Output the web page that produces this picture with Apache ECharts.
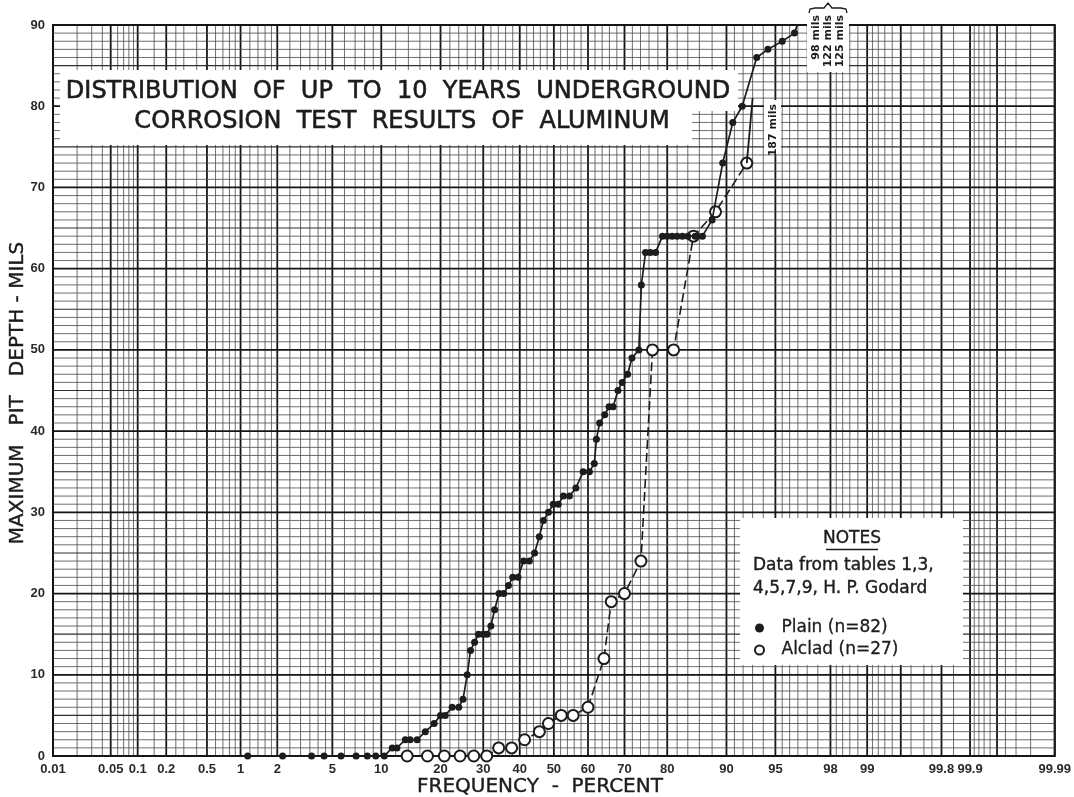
<!DOCTYPE html>
<html>
<head>
<meta charset="utf-8">
<title>Distribution of up to 10 years underground corrosion test results of aluminum</title>
<script src="https://cdn.jsdelivr.net/npm/echarts@6/dist/echarts.min.js"></script>
<style>
  html, body { margin: 0; padding: 0; background: #fff; }
  #chart { width: 1074px; height: 797px; }
</style>
</head>
<body>
<div id="chart"></div>
<script>
// ---- data: cumulative frequency (percent) and maximum pit depth (mils) ----
const PLAIN_PCT = [1.15, 2.2, 3.6, 4.4, 5.7, 7.1, 8.3, 9.3, 10.4,
  11.5, 12.2, 13.5, 14.3, 15.5, 17.0, 18.7, 20.0, 21.0, 22.5, 24.0, 25.0,
  26.0, 26.8, 27.8, 28.8, 30.0, 31.0, 32.0, 33.0, 34.2, 35.5, 36.8, 38.0, 39.5,
  41.1, 42.8, 44.3, 45.7, 46.9, 48.4, 49.8, 51.3, 52.8, 54.6, 56.5, 58.6, 60.4,
  61.8, 62.4, 63.3, 64.7, 65.9, 67.0, 68.3, 69.4, 70.8, 71.9, 73.6,
  74.2, 75.2, 76.3, 77.5, 79.0, 80.0, 81.0, 82.0, 83.0, 84.0, 85.3, 86.5,
  88.0, 89.5, 90.8, 91.9, 93.4, 94.4, 95.5, 96.3, 97.6, 98.2, 98.8];
const PLAIN_DEPTH = [0, 0, 0, 0, 0, 0, 0, 0, 0,
  1, 1, 2, 2, 2, 3, 4, 5, 5, 6, 6, 7,
  10, 13, 14, 15, 15, 15, 16, 18, 20, 20, 21, 22, 22,
  24, 24, 25, 27, 29, 30, 31, 31, 32, 32, 33, 35, 35,
  36, 39, 41, 42, 43, 43, 45, 46, 47, 49, 50,
  58, 62, 62, 62, 64, 64, 64, 64, 64, 64, 64, 64,
  66, 73, 78, 80, 86, 87, 88, 89, 98, 122, 125];

const ALCLAD_PCT = [13.8, 17.4, 20.8, 24.3, 27.6, 30.9, 34.1, 37.7, 41.4, 45.7,
  48.4, 52.2, 55.7, 60.0, 64.5, 66.5, 70.0, 74.1, 76.8, 81.3, 85.0, 88.5, 92.4];
const ALCLAD_DEPTH = [0, 0, 0, 0, 0, 0, 1, 1, 2, 3,
  4, 5, 5, 6, 12, 19, 20, 24, 50, 50, 64, 67, 73];
// largest Alclad pit lies off the scale (187 mils), shown with a leader
const ALCLAD_OFFSCALE = { pct: 93.0, depth: 187, leaderTop: 81 };

// ---- probability-paper axis ----
const X_TICK_LABELS = ['0.01', '0.05', '0.1', '0.2', '0.5', '1', '2', '5', '10', '20', '30',
  '40', '50', '60', '70', '80', '90', '95', '98', '99', '99.8', '99.9', '99.99'];
const Y_TICKS = [0, 10, 20, 30, 40, 50, 60, 70, 80, 90];
// printed rulings of the lower half of the paper (mirrored for the upper half)
const RULINGS_LOW = [0.01, 0.02, 0.03, 0.04, 0.05, 0.06, 0.07, 0.08, 0.09,
  0.1, 0.15, 0.2, 0.25, 0.3, 0.4, 0.5, 0.6, 0.7, 0.8, 0.9,
  1, 1.2, 1.4, 1.6, 1.8, 2, 2.5, 3, 3.5, 4, 4.5, 5, 6, 7, 8, 9,
  10, 12, 14, 16, 18, 20, 22, 24, 26, 28, 30, 32, 34, 36, 38, 40,
  42, 44, 46, 48, 50];
const HEAVY_LOW = [0.01, 0.05, 0.1, 0.2, 0.5, 1, 2, 5, 10, 20, 30, 40, 50];

// inverse standard normal CDF (Acklam)
function probit(p) {
  const a = [-3.969683028665376e+01, 2.209460984245205e+02, -2.759285104469687e+02,
    1.383577518672690e+02, -3.066479806614716e+01, 2.506628277459239e+00];
  const b = [-5.447609879822406e+01, 1.615858368580409e+02, -1.556989798598866e+02,
    6.680131188771972e+01, -1.328068155288572e+01];
  const c = [-7.784894002430293e-03, -3.223964580411365e-01, -2.400758277161838e+00,
    -2.549732539343734e+00, 4.374664141464968e+00, 2.938163982698783e+00];
  const d = [7.784695709041462e-03, 3.224671290700398e-01, 2.445134137142996e+00,
    3.754408454228703e+00];
  const plow = 0.02425;
  let q, r;
  if (p < plow) {
    q = Math.sqrt(-2 * Math.log(p));
    return (((((c[0] * q + c[1]) * q + c[2]) * q + c[3]) * q + c[4]) * q + c[5]) /
      ((((d[0] * q + d[1]) * q + d[2]) * q + d[3]) * q + 1);
  }
  if (p > 1 - plow) {
    q = Math.sqrt(-2 * Math.log(1 - p));
    return -(((((c[0] * q + c[1]) * q + c[2]) * q + c[3]) * q + c[4]) * q + c[5]) /
      ((((d[0] * q + d[1]) * q + d[2]) * q + d[3]) * q + 1);
  }
  q = p - 0.5;
  r = q * q;
  return (((((a[0] * r + a[1]) * r + a[2]) * r + a[3]) * r + a[4]) * r + a[5]) * q /
    (((((b[0] * r + b[1]) * r + b[2]) * r + b[3]) * r + b[4]) * r + 1);
}
const Z = pct => probit(pct / 100);

const X_MIN = Z(0.01), X_MAX = Z(99.99);
const labelZ = X_TICK_LABELS.map(s => Z(parseFloat(s)));

// vertical rulings: [z, 0, weight]  (weight 2 = heavy, 0 = fine)
const rulingSet = new Map();
RULINGS_LOW.forEach(p => {
  const w = HEAVY_LOW.includes(p) ? 2 : 0;
  rulingSet.set(p, w);
  rulingSet.set(+(100 - p).toFixed(4), w);
});
X_TICK_LABELS.forEach(s => rulingSet.set(parseFloat(s), 2));
const vRulings = [...rulingSet.entries()].map(([p, w]) => [Z(p), 0, w]);
// horizontal rulings every mil, heavier every 5 and 10
const hRulings = [];
for (let m = 0; m <= 90; m++) hRulings.push([0, m, m % 10 === 0 ? 2 : (m % 5 === 0 ? 1 : 0)]);

const RULE_STYLE = [
  { stroke: '#4a4a4a', lineWidth: 0.8 },
  { stroke: '#2e2e2e', lineWidth: 1.1 },
  { stroke: '#151515', lineWidth: 1.8 }
];

const plainData = PLAIN_PCT.map((p, i) => [Z(p), PLAIN_DEPTH[i]]);
const alcladData = ALCLAD_PCT.map((p, i) => [Z(p), ALCLAD_DEPTH[i]]);
const alcladLast = alcladData[alcladData.length - 1];

const FONT = 'DejaVu Sans';
const INK = '#1c1c1c';
// hand-lettered look: a thin outline thickens the strokes a little
const lettering = (text, size, extra) => Object.assign({
  text, font: `${size}px "${FONT}"`, fill: INK, stroke: INK, lineWidth: 0.6,
  align: 'center', verticalAlign: 'middle'
}, extra || {});

const chart = echarts.init(document.getElementById('chart'), null, { renderer: 'canvas' });

chart.setOption({
  animation: false,
  backgroundColor: '#ffffff',
  grid: {
    left: 53, right: 12, top: 25, bottom: 41,
    show: true, borderColor: '#111', borderWidth: 2, backgroundColor: 'transparent'
  },
  xAxis: {
    type: 'value', min: X_MIN, max: X_MAX,
    axisLine: { show: false }, axisTick: { show: false }, splitLine: { show: false },
    axisLabel: {
      customValues: labelZ,
      margin: 7,
      fontFamily: 'Liberation Sans', fontWeight: 'bold', fontSize: 13, color: '#2a2a2a',
      formatter: v => {
        let best = 0, bd = Infinity;
        labelZ.forEach((z, i) => { const dd = Math.abs(z - v); if (dd < bd) { bd = dd; best = i; } });
        return X_TICK_LABELS[best];
      }
    }
  },
  yAxis: {
    type: 'value', min: 0, max: 90, interval: 10,
    axisLine: { show: false }, axisTick: { show: false }, splitLine: { show: false },
    axisLabel: {
      margin: 8, fontFamily: 'Liberation Sans', fontWeight: 'bold', fontSize: 13, color: '#2a2a2a',
      formatter: v => (Y_TICKS.includes(v) ? String(v) : '')
    }
  },
  legend: {
    orient: 'vertical', left: 749, top: 612, z: 40,
    itemWidth: 22, itemHeight: 9, itemGap: 0,
    textStyle: { fontFamily: FONT, fontSize: 17, color: INK, lineHeight: 22, padding: [0, 0, 0, 6],
      textBorderColor: INK, textBorderWidth: 0.3 },
    data: [
      { name: 'Plain (n=82)', icon: 'circle' },
      { name: 'Alclad (n=27)', icon: 'emptyCircle' }
    ]
  },
  series: [
    {
      name: 'vertical rulings', type: 'custom', z: 0, silent: true,
      data: vRulings,
      renderItem: (params, api) => {
        const z = api.value(0);
        const p1 = api.coord([z, 0]), p2 = api.coord([z, 90]);
        return { type: 'line', shape: { x1: p1[0], y1: p1[1], x2: p2[0], y2: p2[1] },
          style: RULE_STYLE[api.value(2)] };
      }
    },
    {
      name: 'horizontal rulings', type: 'custom', z: 0, silent: true,
      data: hRulings,
      renderItem: (params, api) => {
        const m = api.value(1);
        const p1 = api.coord([X_MIN, m]), p2 = api.coord([X_MAX, m]);
        return { type: 'line', shape: { x1: p1[0], y1: p1[1], x2: p2[0], y2: p2[1] },
          style: RULE_STYLE[api.value(2)] };
      }
    },
    {
      name: 'Alclad (n=27)', type: 'line', z: 3, clip: true,
      data: alcladData,
      symbol: 'emptyCircle', symbolSize: 11,
      itemStyle: { color: INK, borderColor: INK, borderWidth: 1.6 },
      lineStyle: { color: INK, width: 1.6, type: [9, 4] },
      markLine: {
        silent: true, symbol: ['none', 'none'],
        lineStyle: { color: INK, width: 1.8, type: 'solid' },
        label: { show: false },
        data: [[
          { coord: alcladLast },
          { coord: [Z(ALCLAD_OFFSCALE.pct), ALCLAD_OFFSCALE.leaderTop] }
        ]]
      }
    },
    {
      name: 'Plain (n=82)', type: 'line', z: 4, clip: true,
      data: plainData,
      symbol: 'circle', symbolSize: 7,
      itemStyle: { color: INK },
      lineStyle: { color: INK, width: 1.7 }
    }
  ],
  graphic: [
    // title panel
    { type: 'rect', z: 20, shape: { x: 60, y: 70, width: 678, height: 41 }, style: { fill: '#fff' } },
    { type: 'rect', z: 20, shape: { x: 60, y: 110, width: 632, height: 35 }, style: { fill: '#fff' } },
    { type: 'text', z: 21, x: 398, y: 92,
      style: lettering('DISTRIBUTION  OF  UP  TO  10  YEARS  UNDERGROUND', 24) },
    { type: 'text', z: 21, x: 402, y: 122,
      style: lettering('CORROSION  TEST  RESULTS  OF  ALUMINUM', 24) },

    // notes panel
    { type: 'rect', z: 20, shape: { x: 740, y: 518, width: 223, height: 147 }, style: { fill: '#fff' } },
    { type: 'text', z: 21, x: 852, y: 539, style: lettering('NOTES', 17, { lineWidth: 0.4 }) },
    { type: 'line', z: 21, shape: { x1: 826, y1: 549.5, x2: 878, y2: 549.5 }, style: { stroke: INK, lineWidth: 1.6 } },
    { type: 'text', z: 21, x: 753, y: 566,
      style: lettering('Data from tables 1,3,', 17, { align: 'left', lineWidth: 0.4 }) },
    { type: 'text', z: 21, x: 753, y: 589,
      style: lettering('4,5,7,9, H. P. Godard', 17, { align: 'left', lineWidth: 0.4 }) },

    // off-scale Plain values
    { type: 'rect', z: 20, shape: { x: 807, y: 9, width: 42, height: 63 }, style: { fill: '#fff' } },
    { type: 'polyline', z: 21,
      shape: { points: [[809, 13], [810, 9], [815, 8], [824, 8], [828, 3], [832, 8], [841, 8], [846, 9], [847, 13]] },
      style: { stroke: INK, lineWidth: 1.3, fill: null } },
    { type: 'text', z: 21, x: 816, y: 15, rotation: Math.PI / 2,
      style: { text: '98 mils', font: `bold 11px "${FONT}"`, fill: INK, align: 'right', verticalAlign: 'middle' } },
    { type: 'text', z: 21, x: 828, y: 15, rotation: Math.PI / 2,
      style: { text: '122 mils', font: `bold 11px "${FONT}"`, fill: INK, align: 'right', verticalAlign: 'middle' } },
    { type: 'text', z: 21, x: 840, y: 15, rotation: Math.PI / 2,
      style: { text: '125 mils', font: `bold 11px "${FONT}"`, fill: INK, align: 'right', verticalAlign: 'middle' } },

    // off-scale Alclad value
    { type: 'rect', z: 20, shape: { x: 764, y: 100, width: 17, height: 54 }, style: { fill: '#fff' } },
    { type: 'text', z: 21, x: 773, y: 104, rotation: Math.PI / 2,
      style: { text: ALCLAD_OFFSCALE.depth + ' mils', font: `bold 11px "${FONT}"`, fill: INK, align: 'right', verticalAlign: 'middle' } },

    // axis titles
    { type: 'text', z: 21, x: 18, y: 393, rotation: Math.PI / 2,
      style: lettering('MAXIMUM   PIT   DEPTH - MILS', 20, { lineWidth: 0.4 }) },
    { type: 'text', z: 21, x: 540, y: 787,
      style: lettering('FREQUENCY  -  PERCENT', 20, { lineWidth: 0.4 }) }
  ]
});
</script>
</body>
</html>
